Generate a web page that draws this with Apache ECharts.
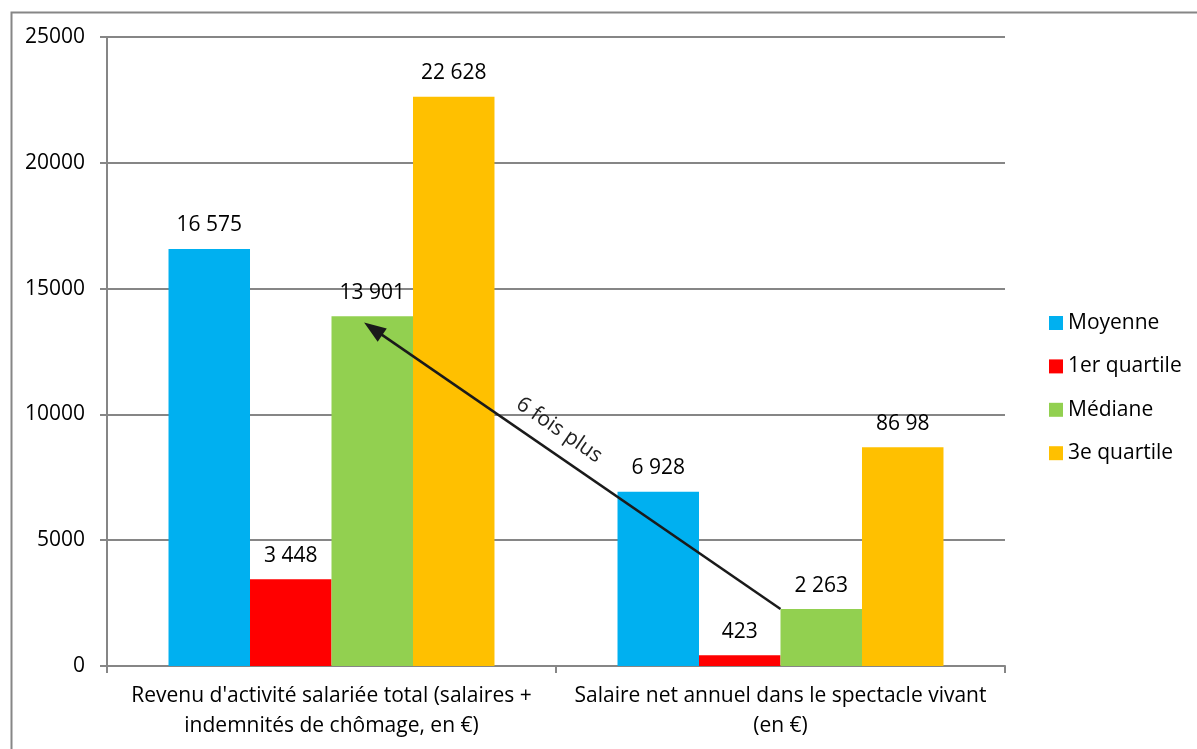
<!DOCTYPE html>
<html>
<head>
<meta charset="utf-8">
<script src="https://cdn.jsdelivr.net/npm/echarts@6/dist/echarts.min.js"></script>
<style>
html,body{margin:0;padding:0;background:#fff;}
#chart{width:1197px;height:749px;}
</style>
</head>
<body>
<div id="chart"></div>
<script>
var categories = ["Revenu d'activité salariée total (salaires +\nindemnités de chômage, en €)", "Salaire net annuel dans le spectacle vivant\n(en €)"];
var seriesNames = ['Moyenne', '1er quartile', 'Médiane', '3e quartile'];
var moyenne = [16575, 6928];
var quartile1 = [3448, 423];
var mediane = [13901, 2263];
var quartile3 = [22628, 8698];
var moyenneLabels = ['16 575', '6 928'];
var quartile1Labels = ['3 448', '423'];
var medianeLabels = ['13 901', '2 263'];
var quartile3Labels = ['22 628', '86 98'];
var yTicks = [0, 5000, 10000, 15000, 20000, 25000];
var arrowText = '6 fois plus';
var arrowFrom = [1, 2263];
var arrowTo = [0, 13650];

var colors = ['#00B0F0', '#FF0000', '#92D050', '#FFC000'];
var FONT = '"Open Sans", "Noto Sans", sans-serif';
var FS = 21;
var chart = echarts.init(document.getElementById('chart'));

function mkSeries(i, data, labels) {
  return {
    name: seriesNames[i], type: 'bar', data: data,
    barGap: '0%', barCategoryGap: '27.4%',
    itemStyle: {color: colors[i]},
    label: {show: true, position: 'top', distance: 13, color: '#000', fontSize: FS, fontFamily: FONT,
      formatter: function (p) { return labels[p.dataIndex]; }}
  };
}

chart.setOption({
  animation: false,
  textStyle: {fontFamily: FONT},
  grid: {left: 107, right: 192, top: 37, bottom: 83},
  legend: {
    orient: 'vertical', left: 1044, top: 307.5, itemWidth: 14, itemHeight: 14, itemGap: 22.4,
    icon: 'rect', data: seriesNames,
    textStyle: {fontSize: FS, color: '#000', fontFamily: FONT, lineHeight: 21}
  },
  xAxis: {
    type: 'category', data: categories,
    axisLine: {lineStyle: {color: '#868686', width: 2}},
    axisTick: {show: true, length: 7, lineStyle: {color: '#868686', width: 2}},
    axisLabel: {fontSize: FS, color: '#000', fontFamily: FONT, lineHeight: 30, margin: 15, interval: 0}
  },
  yAxis: {
    type: 'value', min: yTicks[0], max: yTicks[yTicks.length - 1], interval: yTicks[1] - yTicks[0],
    axisLine: {show: true, lineStyle: {color: '#868686', width: 2}},
    axisTick: {show: true, length: 7, lineStyle: {color: '#868686', width: 2}},
    axisLabel: {fontSize: FS, color: '#000', fontFamily: FONT, margin: 22,
      formatter: function (v) { return String(v); }},
    splitLine: {lineStyle: {color: '#868686', width: 2}}
  },
  series: [
    mkSeries(0, moyenne, moyenneLabels),
    mkSeries(1, quartile1, quartile1Labels),
    mkSeries(2, mediane, medianeLabels),
    mkSeries(3, quartile3, quartile3Labels)
  ]
});

// annotation arrow
var c0 = chart.convertToPixel({xAxisIndex: 0}, 0);
var c1 = chart.convertToPixel({xAxisIndex: 0}, 1);
var band = c1 - c0;
var barW = band * (1 - 0.274) / 4;
var p0 = chart.convertToPixel({seriesIndex: 2}, arrowFrom);
var p1 = chart.convertToPixel({seriesIndex: 2}, arrowTo);
p1 = [p1[0] + 0.4 * barW, p1[1]];
var dx = p1[0] - p0[0], dy = p1[1] - p0[1];
var L = Math.sqrt(dx * dx + dy * dy);
var ux = dx / L, uy = dy / L;
var headLen = 22, headW = 8;
var base = [p1[0] - ux * headLen, p1[1] - uy * headLen];
var nx = -uy, ny = ux;
var mid = [(p0[0] + p1[0]) / 2, (p0[1] + p1[1]) / 2];
var tnx = nx, tny = ny;
if (tny > 0) { tnx = -tnx; tny = -tny; }
var tc = [mid[0] + 31 * ux + 22 * tnx, mid[1] + 31 * uy + 22 * tny];
var ang = Math.atan2(-dy, -dx);

chart.setOption({
  graphic: [
    {type: 'rect', left: 9, top: 10, shape: {x: 0, y: 0, width: 1300, height: 900}, z: -10,
      style: {fill: 'none', stroke: '#868686', lineWidth: 2}},
    {type: 'line', shape: {x1: p0[0], y1: p0[1], x2: base[0] + ux * 2, y2: base[1] + uy * 2},
      style: {stroke: '#1a1a1a', lineWidth: 2.5}, z: 100},
    {type: 'polygon', shape: {points: [p1, [base[0] + nx * headW, base[1] + ny * headW], [base[0] - nx * headW, base[1] - ny * headW]]},
      style: {fill: '#1a1a1a'}, z: 100},
    {type: 'text', x: tc[0], y: tc[1], rotation: -ang, z: 100,
      style: {text: arrowText, fontSize: FS, fontFamily: FONT, fill: '#222', align: 'center', verticalAlign: 'middle'}}
  ]
});
</script>
</body>
</html>
